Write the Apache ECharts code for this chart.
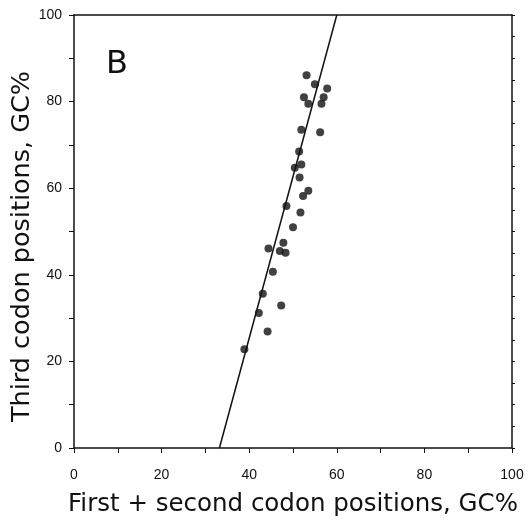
<!DOCTYPE html>
<html>
<head>
<meta charset="utf-8">
<script src="https://cdn.jsdelivr.net/npm/echarts@6/dist/echarts.min.js"></script>
<style>html,body{margin:0;padding:0;background:#fff}#c{width:532px;height:520px}</style>
</head>
<body>
<div id="c"></div>
<script>
var pointsX = [53.1,55.0,57.8,52.5,53.5,56.5,57.0,51.9,56.2,51.4,50.4,51.9,51.5,53.5,52.3,48.5,51.7,50.0,44.4,47.8,48.3,47.0,45.4,43.1,42.2,47.3,44.2,38.9];
var pointsY = [86.1,84.0,83.0,81.0,79.5,79.5,81.0,73.5,72.9,68.5,64.7,65.5,62.5,59.4,58.2,55.9,54.4,51.0,46.1,47.4,45.1,45.5,40.7,35.6,31.2,32.9,26.9,22.8];
var lineX = [33.2, 60.0];
var lineY = [0, 100];
var xTickLabels = [0,20,40,60,80,100];
var yTickLabels = [0,20,40,60,80,100];

var scatterData = pointsX.map(function(x,i){return [x, pointsY[i]];});
var lineData = lineX.map(function(x,i){return [x, lineY[i]];});
var font = 'Liberation Sans';
var tfont = 'DejaVu Sans';
var chart = echarts.init(document.getElementById('c'));
function lab(v){ return xTickLabels.indexOf(v) >= 0 ? String(v) : ''; }
function labY(v){ return yTickLabels.indexOf(v) >= 0 ? String(v) : ''; }
chart.setOption({
  animation:false,
  backgroundColor:'#fff',
  grid:{left:74,right:20,top:15,bottom:72,containLabel:false,outerBoundsMode:'none'},
  graphic:[{type:'text',left:106,top:49,style:{text:'B',font:'32px "DejaVu Sans"',fill:'#111'}}],
  xAxis:[{
    type:'value',min:0,max:100,interval:10,position:'bottom',
    name:'First + second codon positions, GC%',nameLocation:'middle',nameGap:44,
    nameTextStyle:{fontFamily:tfont,fontSize:24.5,color:'#111'},
    axisLine:{onZero:false,lineStyle:{color:'#111',width:1.5}},
    axisTick:{length:5,lineStyle:{color:'#111'}},
    axisLabel:{formatter:lab,fontFamily:font,fontSize:14,color:'#111',margin:20},
    splitLine:{show:false}
  },{
    type:'value',min:0,max:100,position:'top',
    axisLine:{onZero:false,lineStyle:{color:'#111',width:1.5}},axisTick:{show:false},axisLabel:{show:false},splitLine:{show:false}
  }],
  yAxis:[{
    type:'value',min:0,max:100,interval:10,position:'left',
    name:'Third codon positions, GC%',nameLocation:'middle',nameGap:39,nameMoveOverlap:false,
    nameTextStyle:{fontFamily:tfont,fontSize:25.5,color:'#111',padding:[0,30,0,0]},
    axisLine:{onZero:false,lineStyle:{color:'#111',width:1.5}},
    axisTick:{length:5,lineStyle:{color:'#111'}},
    axisLabel:{formatter:labY,fontFamily:font,fontSize:14,color:'#111',margin:12},
    splitLine:{show:false}
  },{
    type:'value',min:0,max:100,interval:5,position:'right',
    axisLine:{onZero:false,lineStyle:{color:'#111',width:1.5}},
    axisTick:{inside:false,length:3,lineStyle:{color:'#111'}},
    axisLabel:{show:false},splitLine:{show:false}
  }],
  series:[{
    type:'line',data:lineData,symbol:'none',
    lineStyle:{color:'#111',width:1.5}
  },{
    type:'scatter',data:scatterData,symbol:'circle',symbolSize:8,
    itemStyle:{color:'#111'}
  }]
});
</script>
</body>
</html>
